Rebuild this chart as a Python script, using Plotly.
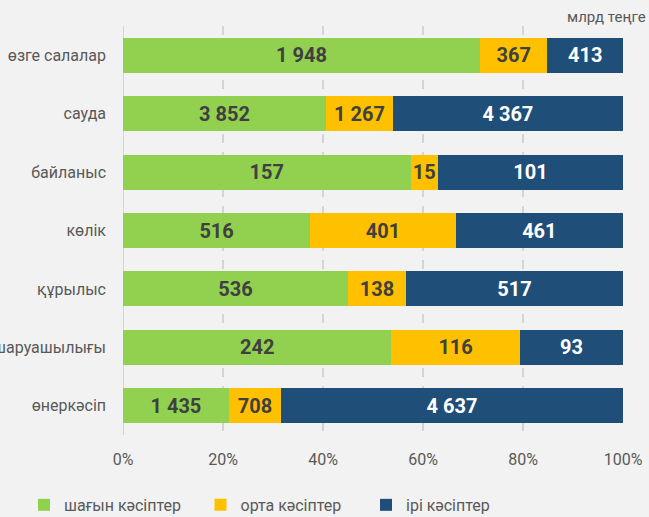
import plotly.graph_objects as go

categories = ["өнеркәсіп", "ауыл шаруашылығы", "құрылыс", "көлік", "байланыс", "сауда", "өзге салалар"]
small = [1435, 242, 536, 516, 157, 3852, 1948]
medium = [708, 116, 138, 401, 15, 1267, 367]
large = [4637, 93, 517, 461, 101, 4367, 413]
series_names = ["шағын кәсіптер", "орта кәсіптер", "ірі кәсіптер"]
tick_vals = [0, 20, 40, 60, 80, 100]
tick_text = ["0%", "20%", "40%", "60%", "80%", "100%"]

colors = ["#92d050", "#ffc000", "#1f4e79"]
text_colors = ["#404040", "#404040", "#ffffff"]
legend_ids = ["legend", "legend2", "legend3"]
legend_x = [-0.198, 0.155, 0.486]
FONT = "Roboto, sans-serif"

def fmt(v):
    return f"{v:,}".replace(",", " ")

fig = go.Figure()
for name, vals, c, tc, lg in zip(series_names, [small, medium, large], colors, text_colors, legend_ids):
    fig.add_trace(go.Bar(
        y=categories, x=vals, name=name, orientation="h", legend=lg,
        marker=dict(color=c, line=dict(width=0)),
        text=[fmt(v) for v in vals], textposition="inside",
        insidetextanchor="middle", textangle=0,
        textfont=dict(family=FONT, size=20, color=tc, weight="bold"),
        hoverinfo="skip",
    ))

legend_common = dict(orientation="h", y=-0.171, xanchor="left", yanchor="middle",
                     font=dict(size=16, color="#595959"), itemwidth=30,
                     bgcolor="rgba(0,0,0,0)")
fig.update_layout(
    barmode="stack", barnorm="percent", bargap=0.4,
    width=649, height=517,
    paper_bgcolor="#f2f2f2", plot_bgcolor="#f2f2f2",
    margin=dict(l=123, r=26, t=26, b=82, autoexpand=False),
    font=dict(family=FONT, size=16, color="#595959"),
    uniformtext=dict(minsize=20, mode="show"),
    showlegend=True,
    legend=dict(x=legend_x[0], **legend_common),
    legend2=dict(x=legend_x[1], **legend_common),
    legend3=dict(x=legend_x[2], **legend_common),
    annotations=[dict(text="млрд теңге", x=1.05, y=1.0, xref="paper", yref="paper",
                      xanchor="right", yanchor="bottom", yshift=-2, showarrow=False,
                      font=dict(size=15, color="#595959"))],
)
fig.update_xaxes(range=[0, 100], tickvals=tick_vals, ticktext=tick_text,
                 showgrid=True, gridcolor="#d4d4d4", griddash="dash", gridwidth=2,
                 zeroline=False, showline=False, ticks="", ticklabelstandoff=13,
                 fixedrange=True)
fig.update_yaxes(showgrid=False, ticks="", ticklabelstandoff=16, automargin=False,
                 tickfont=dict(size=16, color="#595959"), fixedrange=True)
fig.add_shape(type="line", x0=0, x1=0, y0=0, y1=1, xref="x", yref="paper",
              line=dict(color="#d4d4d4", width=2), layer="below")

fig.write_html("out.html", config={"displayModeBar": False},
               post_script="document.body.style.margin='0';document.body.style.overflow='hidden';")
